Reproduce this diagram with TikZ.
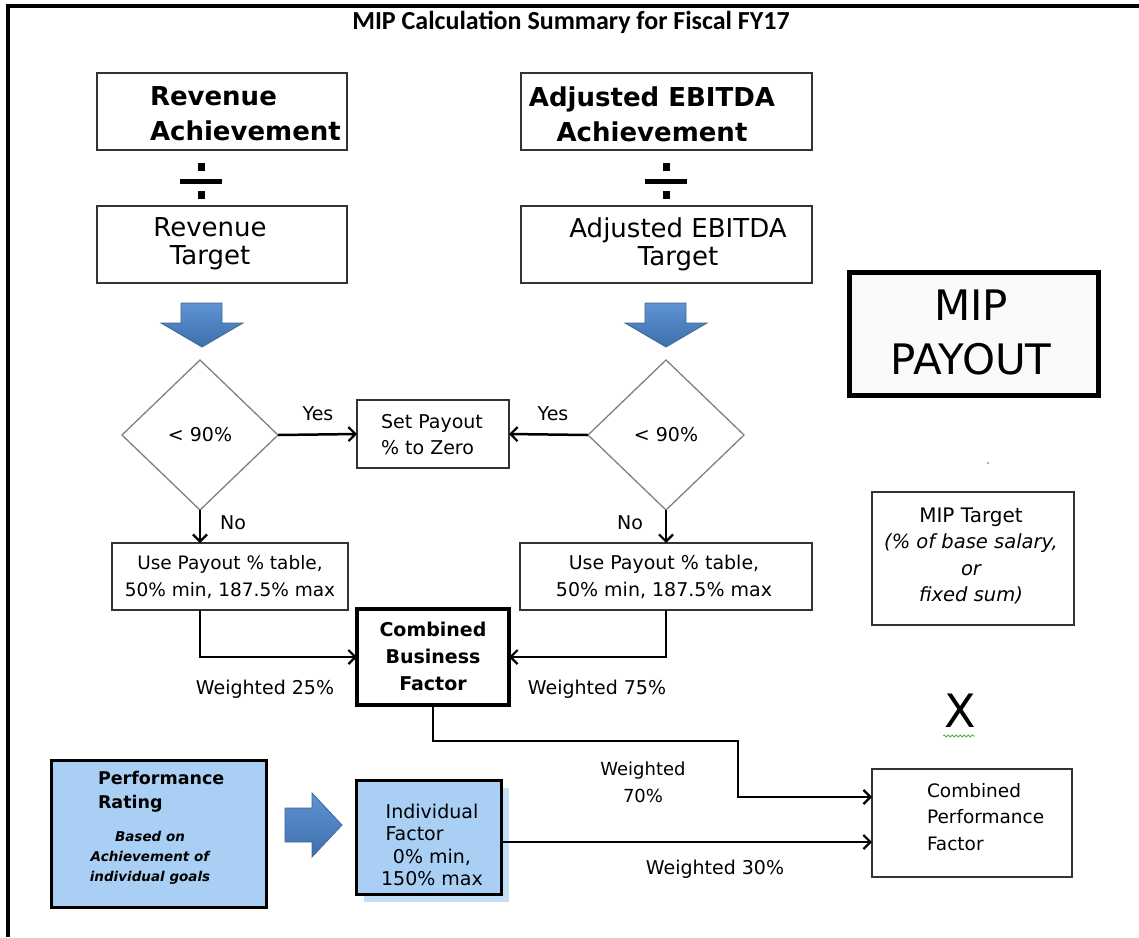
\documentclass[tikz,border=0pt]{standalone}
\usepackage{fontspec}
\setmainfont{DejaVu Sans}
\newfontfamily\titlef{Carlito}
\usetikzlibrary{shapes.geometric,arrows.meta,decorations.pathmorphing}
\definecolor{arrowblue}{HTML}{4F81BD}
\definecolor{arrowtop}{HTML}{5F93D3}
\definecolor{arrowbot}{HTML}{3F6FAD}
\definecolor{arrowedge}{HTML}{3C6796}
\definecolor{lightblue}{HTML}{A9CFF5}
\definecolor{shadowblue}{HTML}{C4DEF8}
\definecolor{boxedge}{HTML}{333333}
\definecolor{diaedge}{HTML}{808080}
\definecolor{squig}{HTML}{4CAF50}
\newcommand\myfs[2]{\fontsize{#1}{#2}\selectfont}
\begin{document}
\begin{tikzpicture}[x=1pt,y=-1pt,
  box/.style={draw=boxedge,line width=1.5pt,inner sep=0pt,outer sep=0pt,anchor=north west,fill=white},
  thickbox/.style={box,draw=black,line width=4pt},
  bluebox/.style={box,draw=black,line width=3pt,fill=lightblue},
  dia/.style={draw=diaedge,line width=1.3pt,diamond,aspect=1,minimum width=156pt,minimum height=150pt,inner sep=0pt,outer sep=0pt,font=\myfs{19}{23}},
  txt/.style={inner sep=0pt,outer sep=0pt,align=center,text=black},
  reg/.style={font=\myfs{19}{27}},
  conn/.style={draw=black,line width=2.5pt,-{Straight Barb[length=7pt,width=14pt,line width=2.2pt]}},
  blockarrow/.style={top color=arrowtop,bottom color=arrowbot,draw=arrowedge,line width=0.8pt}
]
\useasboundingbox (0,0) rectangle (1139,937);
% frame
\draw[line width=3.5pt] (8,937) -- (8,6) -- (1139,6);
% title
\node[txt,font=\titlef\bfseries\myfs{26}{30}] (title) at (571,22) {MIP Calculation Summary for Fiscal FY17};

% achievement boxes
\node[box,minimum width=250pt,minimum height=77pt] (ra) at (97,73) {};
\node[txt,align=left,anchor=west,font=\bfseries\myfs{26}{35}] (ratext) at (150,114) {Revenue\\Achievement};
\node[box,minimum width=291pt,minimum height=77pt] (ea) at (521,73) {};
\node[txt,font=\bfseries\myfs{26}{35}] (eatext) at (652,114) {Adjusted EBITDA\\Achievement};

% divide signs
\fill (180,178.5) rectangle (222,183.5);
\fill (197.5,163) rectangle (205,171);
\fill (197.5,191) rectangle (205,199);
\fill (645,178.5) rectangle (687,183.5);
\fill (662.5,163) rectangle (670,171);
\fill (662.5,191) rectangle (670,199);

% target boxes
\node[box,minimum width=250pt,minimum height=77pt] (rt) at (97,206) {};
\node[txt,font=\myfs{26}{28}] (rttext) at (210,244) {Revenue\\Target};
\node[box,minimum width=291pt,minimum height=77pt] (et) at (521,206) {};
\node[txt,font=\myfs{26}{28}] (ettext) at (678,244) {Adjusted EBITDA\\Target};

% blue down arrows
\draw[blockarrow] (181,303) -- (222,303) -- (222,323) -- (243,323) -- (202,347) -- (161,323) -- (181,323) -- cycle;
\draw[blockarrow] (645,303) -- (686,303) -- (686,323) -- (707,323) -- (666,347) -- (625,323) -- (645,323) -- cycle;

% MIP payout
\node[box,draw=black,line width=5pt,fill=black!2,minimum width=249pt,minimum height=123pt] (payout) at (849,272) {};
\node[txt,font=\myfs{42}{54}] (payouttext) at (971,332) {MIP\\PAYOUT};
\fill[black!60] (988,463) circle (0.9);

% MIP target
\node[box,minimum width=202pt,minimum height=133pt] (mipt) at (872,492) {};
\node[txt,font=\itshape\myfs{19.5}{26.5}] (mipttext) at (971,556) {{\upshape\myfs{20}{26.5}MIP Target}\\(\% of base salary,\\or\\fixed sum)};

% diamonds
\node[dia] (ldia) at (200,435) {< 90\%};
\node[dia] (rdia) at (666,435) {< 90\%};

% set payout
\node[box,minimum width=152pt,minimum height=68pt] (sp) at (357,400) {};
\node[txt,align=left,font=\myfs{19}{26}] (sptext) at (432,435) {Set Payout\\\% to Zero};

\draw[conn] (ldia.east) -- (sp.west);
\draw[conn] (rdia.west) -- (sp.east);
\node[txt,reg] (yes1) at (318,414) {Yes};
\node[txt,reg] (yes2) at (553,414) {Yes};

% use payout boxes
\node[box,minimum width=236pt,minimum height=67pt] (lup) at (112,543) {};
\node[txt,font=\myfs{18.5}{27}] (luptext) at (230,577) {Use Payout \% table,\\50\% min, 187.5\% max};
\node[box,minimum width=292pt,minimum height=67pt] (rup) at (520,543) {};
\node[txt,font=\myfs{19}{27}] (ruptext) at (664,577) {Use Payout \% table,\\50\% min, 187.5\% max};

\draw[conn] (ldia.south) -- (ldia.south |- lup.north);
\draw[conn] (rdia.south) -- (rdia.south |- rup.north);
\node[txt,reg] (no1) at (233,523) {No};
\node[txt,reg] (no2) at (630,523) {No};

% combined business factor
\node[thickbox,minimum width=152pt,minimum height=96pt] (cbf) at (357,609) {};
\node[txt,font=\bfseries\myfs{19}{27}] (cbftext) at (433,656) {Combined\\Business\\Factor};

\draw[conn] (ldia.south |- lup.south) |- (cbf.west);
\draw[conn] (rdia.south |- rup.south) |- (cbf.east);
\node[txt,reg] (w25) at (265,689) {Weighted 25\%};
\node[txt,reg] (w75) at (597,689) {Weighted 75\%};

% X
\node[txt,font=\myfs{46}{50}] (times) at (960,711) {X};
\draw[squig,line width=0.8pt,decorate,decoration={snake,amplitude=1pt,segment length=4pt}] (943,736) -- (975,736);

% combined performance factor
\node[box,minimum width=200pt,minimum height=108pt] (cpf) at (872,769) {};
\node[txt,align=left,anchor=west,font=\myfs{18.5}{26.5}] (cpftext) at (927,817) {Combined\\Performance\\Factor};

\coordinate (bend1) at (738,741);
\draw[conn] (cbf.south) |- (bend1) |- ([yshift=26pt]cpf.west);
\node[txt,font=\myfs{18}{27}] (w70) at (643,782) {Weighted\\70\%};

% performance rating
\node[bluebox,minimum width=215pt,minimum height=147pt] (pr) at (51,760) {};
\node[txt,align=left,anchor=west,font=\bfseries\myfs{17.5}{24}] (prtext) at (98,792) {Performance\\Rating};
\node[txt,font=\bfseries\itshape\myfs{13.5}{20}] (prsub) at (150,858) {Based on\\Achievement of\\individual goals};

% blue right arrow
\draw[blockarrow] (285,808) -- (312,808) -- (312,793) -- (342,825) -- (312,857) -- (312,842) -- (285,842) -- cycle;

% individual factor
\fill[shadowblue] (364,788) rectangle (509,902);
\node[bluebox,minimum width=145pt,minimum height=114pt] (if) at (356,780) {};
\node[txt,font=\myfs{19}{22.5}] (iftext) at (432,845) {Individual\\\makebox[93pt][l]{Factor}\\0\% min,\\150\% max};

\draw[conn] ([yshift=-5pt]if.east) -- ([yshift=-5pt]if.east -| cpf.west);
\node[txt,reg] (w30) at (715,869) {Weighted 30\%};
\end{tikzpicture}
\end{document}
